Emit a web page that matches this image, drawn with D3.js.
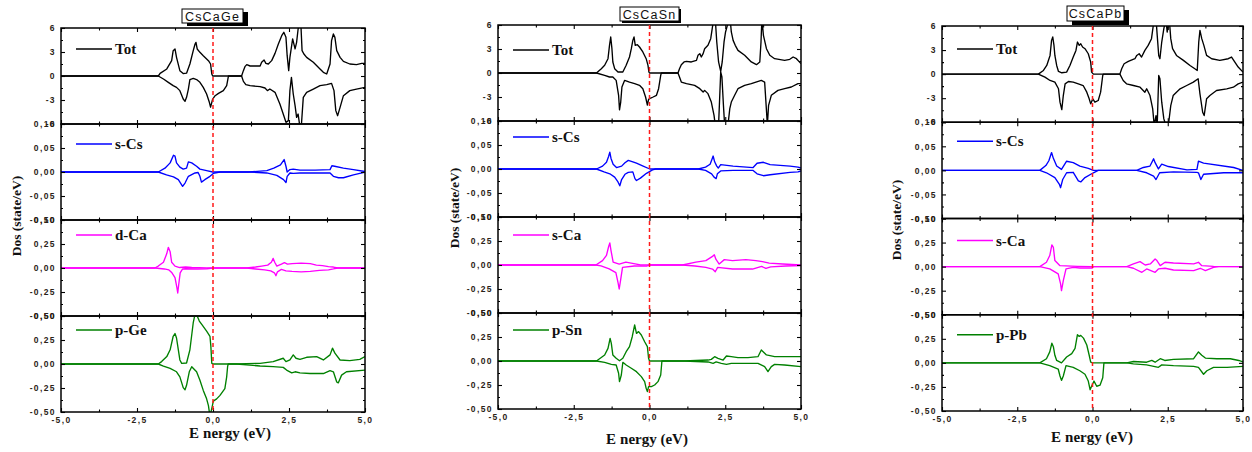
<!DOCTYPE html>
<html>
<head>
<meta charset="utf-8">
<script src="https://cdn.jsdelivr.net/npm/d3@7"></script>
<style>
  body { margin: 0; background: #fff; }
  svg { display: block; }
</style>
</head>
<body>
<svg id="chart" width="1252" height="452"></svg>
<script>
// ---------------- data ----------------
const compounds = ["CsCaGe", "CsCaSn", "CsCaPb"];
const channelLabels = [
  ["Tot", "s-Cs", "d-Ca", "p-Ge"],
  ["Tot", "s-Cs", "s-Ca", "p-Sn"],
  ["Tot", "s-Cs", "s-Ca", "p-Pb"]
];
const channelColors = ["#000000", "#0000ff", "#ff00ff", "#008000"];

const energyDomain = [-5, 5];
const energyTicks = [-5, -2.5, 0, 2.5, 5];
const energyMinorTicks = [-3.75, -1.25, 1.25, 3.75];
const energyTickLabels = ["-5,0", "-2,5", "0,0", "2,5", "5,0"];

const totDomain = [-6, 6];
const totTicks = [-6, -3, 0, 3, 6];
const totMinorTicks = [-4.5, -1.5, 1.5, 4.5];
const totTickLabels = ["-6", "-3", "0", "3", "6"];

const csDomain = [-0.1, 0.1];
const csTicks = [-0.1, -0.05, 0, 0.05, 0.1];
const csMinorTicks = [-0.075, -0.025, 0.025, 0.075];
const csTickLabels = ["-0,10", "-0,05", "0,00", "0,05", "0,10"];

const halfDomain = [-0.5, 0.5];
const halfTicks = [-0.5, -0.25, 0, 0.25, 0.5];
const halfMinorTicks = [-0.375, -0.125, 0.125, 0.375];
const halfTickLabels = ["-0,50", "-0,25", "0,00", "0,25", "0,50"];

// CsCaGe: [energy (eV), DOS] for spin up / spin down
const geTotUp = [[-5,0],[-1.80,0],[-1.74,0.33],[-1.52,0.88],[-1.36,1.92],[-1.31,3.17],[-1.25,3.38],[-1.20,2.33],[-1.09,0.67],[-0.98,0.3],[-0.87,0.35],[-0.76,1.5],[-0.65,3.17],[-0.59,4.0],[-0.56,4.2],[-0.52,3.38],[-0.43,2.96],[-0.32,2.54],[-0.15,1.92],[-0.08,1.5],[-0.04,0.25],[-0.01,0],[0.94,0],[1.0,0.67],[1.05,1.17],[1.11,1.42],[1.22,1.25],[1.55,1.25],[1.60,1.71],[1.68,2.0],[1.74,1.58],[1.82,1.5],[1.93,1.92],[2.04,2.83],[2.15,4.0],[2.26,5.04],[2.33,5.46],[2.40,4.83],[2.44,2.54],[2.49,0.67],[2.53,2.33],[2.62,4.63],[2.70,3.38],[2.75,4.21],[2.80,5.88],[2.84,6.5],[2.89,6.5],[2.93,3.17],[2.99,2.75],[3.08,2.33],[3.30,1.71],[3.52,0.88],[3.63,0.46],[3.74,0.25],[3.85,1.5],[3.90,4.42],[3.96,5.25],[4.01,4.83],[4.07,3.17],[4.18,2.33],[4.29,1.83],[4.50,1.5],[4.72,1.42],[4.89,1.58],[5.0,1.58]];
const geTotDn = [[-5,0],[-1.80,0],[-1.63,-0.38],[-1.47,-0.79],[-1.31,-1.21],[-1.20,-1.42],[-1.09,-1.83],[-0.98,-2.88],[-0.92,-3.17],[-0.87,-2.67],[-0.81,-1.63],[-0.76,-0.45],[-0.65,-0.3],[-0.54,-0.45],[-0.43,-0.79],[-0.32,-1.42],[-0.21,-2.25],[-0.12,-3.29],[-0.08,-3.9],[-0.01,-2.88],[0.07,-2.46],[0.18,-2.17],[0.34,-1.83],[0.45,-1.21],[0.50,-0.17],[0.51,0],[0.94,0],[1.0,-0.67],[1.08,-1.08],[1.22,-1.21],[1.55,-1.33],[1.71,-1.5],[1.79,-1.83],[1.87,-1.63],[2.04,-2.04],[2.20,-3.5],[2.31,-4.75],[2.40,-5.79],[2.48,-5.58],[2.53,-1.83],[2.58,-0.17],[2.64,-2.25],[2.70,-3.71],[2.75,-5.17],[2.80,-4.75],[2.86,-6.4],[2.91,-6.0],[2.97,-2.67],[3.08,-2.04],[3.30,-1.63],[3.52,-1.21],[3.74,-1.08],[3.90,-0.92],[3.98,-1.83],[4.04,-4.33],[4.10,-4.96],[4.18,-3.92],[4.29,-2.46],[4.50,-1.83],[4.72,-1.63],[5.0,-1.42]];
const geCsUp = [[-5,0],[-1.80,0],[-1.58,0.008],[-1.41,0.019],[-1.30,0.035],[-1.25,0.033],[-1.20,0.019],[-1.09,0.010],[-0.98,0.006],[-0.87,0.008],[-0.81,0.021],[-0.70,0.019],[-0.54,0.012],[-0.43,0.006],[-0.21,0.003],[-0.01,0],[1.16,0],[1.77,0.003],[2.0,0.008],[2.22,0.015],[2.34,0.026],[2.40,0.012],[2.44,0],[2.53,0.005],[2.64,0.006],[2.75,0.005],[2.86,0.004],[3.36,0.004],[3.85,0.005],[3.91,0.013],[4.0,0.012],[4.29,0.008],[4.62,0.005],[5.0,0.001]];
const geCsDn = [[-5,0],[-1.80,0],[-1.53,-0.006],[-1.30,-0.010],[-1.14,-0.016],[-1.0,-0.030],[-0.92,-0.023],[-0.81,-0.009],[-0.59,-0.002],[-0.49,-0.001],[-0.43,-0.009],[-0.38,-0.021],[-0.27,-0.016],[-0.10,-0.009],[0.01,-0.003],[0.14,-0.001],[0.23,0],[1.16,0],[1.77,-0.002],[2.1,-0.007],[2.32,-0.016],[2.40,-0.022],[2.44,-0.009],[2.53,-0.002],[2.64,-0.003],[2.86,-0.002],[3.85,-0.002],[3.96,-0.009],[4.13,-0.012],[4.29,-0.012],[4.62,-0.006],[4.90,-0.002],[5.0,0]];
const geCaUp = [[-5,0],[-1.91,0],[-1.80,0.02],[-1.63,0.06],[-1.52,0.15],[-1.47,0.215],[-1.41,0.17],[-1.36,0.06],[-1.25,0.02],[-1.1,0.005],[-0.9,0.01],[-0.7,0.005],[-0.2,0],[1.11,0],[1.4,0.01],[1.6,0.02],[1.8,0.03],[1.92,0.06],[1.98,0.10],[2.03,0.06],[2.1,0.02],[2.25,0.04],[2.35,0.055],[2.45,0.04],[2.6,0.045],[2.9,0.05],[3.2,0.045],[3.4,0.03],[3.6,0.025],[3.8,0.015],[3.96,0.01],[4.1,0],[5,0]];
const geCaDn = [[-5,0],[-1.91,0],[-1.6,-0.01],[-1.45,-0.02],[-1.35,-0.05],[-1.25,-0.10],[-1.19,-0.2],[-1.16,-0.26],[-1.13,-0.18],[-1.08,-0.05],[-1.0,-0.01],[-0.9,-0.008],[-0.5,-0.01],[-0.2,-0.008],[0,0],[1.11,0],[1.4,-0.01],[1.7,-0.02],[1.9,-0.03],[2.02,-0.05],[2.07,-0.08],[2.12,-0.04],[2.25,-0.015],[2.4,-0.03],[2.6,-0.035],[2.9,-0.04],[3.2,-0.035],[3.5,-0.025],[3.8,-0.02],[3.96,-0.01],[4.1,0],[5,0]];
const gePUp = [[-5,0],[-1.80,0],[-1.69,0.025],[-1.52,0.077],[-1.41,0.148],[-1.31,0.289],[-1.25,0.317],[-1.20,0.271],[-1.14,0.148],[-1.09,0.042],[-1.03,0.007],[-0.87,0.01],[-0.76,0.148],[-0.65,0.43],[-0.59,0.52],[-0.52,0.5],[-0.45,0.447],[-0.37,0.412],[-0.21,0.342],[-0.10,0.289],[-0.07,0.183],[-0.04,0.007],[0,0],[0.78,0],[1.55,0.007],[1.98,0.025],[2.31,0.06],[2.40,0.025],[2.53,0.042],[2.64,0.095],[2.73,0.06],[2.86,0.049],[3.08,0.07],[3.41,0.077],[3.63,0.042],[3.85,0.095],[3.93,0.165],[4.01,0.113],[4.18,0.042],[4.50,0.035],[4.83,0.049],[5.0,0.077]];
const gePDn = [[-5,0],[-1.80,0],[-1.63,-0.021],[-1.41,-0.046],[-1.20,-0.081],[-1.09,-0.134],[-0.98,-0.246],[-0.92,-0.268],[-0.87,-0.222],[-0.78,-0.081],[-0.70,-0.028],[-0.54,-0.081],[-0.43,-0.169],[-0.32,-0.275],[-0.21,-0.363],[-0.15,-0.433],[-0.12,-0.5],[-0.08,-0.52],[-0.03,-0.45],[0.01,-0.387],[0.12,-0.363],[0.23,-0.327],[0.39,-0.257],[0.45,-0.134],[0.48,-0.028],[0.50,0],[0.78,0],[1.55,-0.021],[1.98,-0.028],[2.31,-0.035],[2.42,-0.063],[2.59,-0.092],[2.70,-0.081],[2.86,-0.092],[3.19,-0.099],[3.63,-0.099],[3.85,-0.07],[3.96,-0.081],[4.07,-0.187],[4.12,-0.197],[4.23,-0.116],[4.39,-0.081],[5.0,-0.063]];

// CsCaSn
const snTotUp = [[-5,0],[-1.75,0],[-1.59,0.54],[-1.48,0.96],[-1.37,1.79],[-1.32,3.46],[-1.28,4.5],[-1.24,3.04],[-1.21,1.38],[-1.15,0.54],[-1.04,0.13],[-0.88,0.13],[-0.77,0.96],[-0.66,2.0],[-0.60,3.04],[-0.55,4.08],[-0.51,4.5],[-0.47,3.46],[-0.40,3.54],[-0.33,3.25],[-0.22,2.63],[-0.11,1.79],[-0.05,0.96],[-0.02,0.13],[0,0],[0.94,0],[0.99,0.54],[1.05,1.04],[1.14,1.38],[1.22,1.46],[1.38,1.38],[1.55,1.58],[1.60,2.21],[1.66,2.42],[1.71,2.0],[1.77,2.42],[1.82,3.04],[1.93,3.46],[2.02,4.29],[2.07,5.54],[2.12,6.8],[2.17,6.8],[2.22,3.88],[2.28,1.38],[2.35,0.2],[2.40,1.38],[2.46,3.88],[2.51,5.13],[2.57,5.96],[2.60,6.8],[2.66,6.8],[2.70,5.13],[2.76,4.08],[2.83,3.46],[2.92,2.83],[3.14,2.21],[3.36,1.38],[3.53,1.04],[3.64,1.38],[3.68,3.88],[3.71,6.8],[3.76,4.71],[3.86,3.04],[3.97,2.21],[4.13,1.79],[4.46,1.58],[4.63,1.71],[4.74,2.0],[4.85,1.79],[5.0,1.17]];
const snTotDn = [[-5,0],[-1.75,0],[-1.48,-0.29],[-1.32,-0.5],[-1.21,-0.5],[-1.10,-0.92],[-1.02,-2.79],[-0.99,-4.6],[-0.95,-3.63],[-0.91,-1.75],[-0.82,-0.92],[-0.66,-1.13],[-0.49,-1.33],[-0.33,-1.54],[-0.22,-1.96],[-0.13,-3.0],[-0.07,-4.0],[-0.03,-3.29],[0.04,-3.13],[0.12,-3.0],[0.23,-2.79],[0.30,-1.96],[0.37,-0.29],[0.39,0],[0.94,0],[0.99,-0.5],[1.05,-1.13],[1.22,-1.33],[1.49,-1.54],[1.66,-1.96],[1.77,-2.38],[1.82,-2.17],[1.93,-2.58],[2.04,-3.63],[2.13,-5.29],[2.17,-6.5],[2.28,-6.5],[2.35,0.13],[2.39,-0.5],[2.44,-4.04],[2.48,-6.5],[2.59,-6.5],[2.65,-4.46],[2.70,-3.63],[2.81,-2.79],[2.92,-1.96],[3.14,-1.54],[3.36,-1.33],[3.69,-0.92],[3.80,-1.13],[3.86,-4.67],[3.89,-6.5],[3.93,-4.04],[4.02,-2.79],[4.24,-2.17],[4.46,-1.96],[4.68,-1.75],[4.90,-1.33],[5.0,-1.33]];
const snCsUp = [[-5,0],[-1.75,0],[-1.55,0.006],[-1.42,0.014],[-1.35,0.026],[-1.31,0.035],[-1.27,0.022],[-1.20,0.010],[-1.09,0.003],[-0.92,0.006],[-0.81,0.013],[-0.70,0.018],[-0.55,0.015],[-0.43,0.012],[-0.21,0.006],[0.01,0],[1.61,0],[1.85,0.004],[2.0,0.010],[2.06,0.020],[2.10,0.027],[2.15,0.015],[2.22,0.006],[2.27,0.002],[2.35,0.009],[2.76,0.006],[3.42,0.003],[3.55,0.012],[3.76,0.014],[3.98,0.009],[4.64,0.006],[4.9,0.004],[5.0,0.002]];
const snCsDn = [[-5,0],[-1.75,0],[-1.50,-0.006],[-1.31,-0.010],[-1.15,-0.017],[-1.04,-0.027],[-0.98,-0.035],[-0.92,-0.022],[-0.81,-0.011],[-0.70,-0.007],[-0.55,-0.006],[-0.48,-0.020],[-0.43,-0.024],[-0.30,-0.019],[-0.10,-0.009],[0.10,-0.002],[0.2,0],[1.61,0],[1.85,-0.003],[2.05,-0.010],[2.13,-0.017],[2.20,-0.020],[2.24,-0.010],[2.35,-0.004],[2.76,-0.003],[3.42,-0.003],[3.55,-0.010],[3.76,-0.014],[3.98,-0.012],[4.64,-0.007],[4.9,-0.006],[5.0,-0.004]];
const snCaUp = [[-5,0],[-1.77,0],[-1.55,0.046],[-1.42,0.1],[-1.35,0.19],[-1.31,0.23],[-1.27,0.15],[-1.20,0.03],[-1.0,0.01],[-0.78,0.03],[-0.43,0.01],[-0.3,0],[1.09,0],[1.53,0.03],[1.86,0.046],[2.08,0.09],[2.14,0.106],[2.19,0.06],[2.3,0.01],[2.47,0.056],[2.74,0.046],[3.18,0.056],[3.51,0.046],[3.73,0.035],[3.95,0.02],[4.4,0.01],[5,0]];
const snCaDn = [[-5,0],[-1.77,0],[-1.6,-0.01],[-1.33,-0.04],[-1.11,-0.08],[-1.04,-0.18],[-1.0,-0.25],[-0.95,-0.15],[-0.89,-0.025],[-0.5,-0.01],[-0.1,-0.012],[0,0],[1.09,0],[1.5,-0.01],[1.86,-0.025],[2.08,-0.042],[2.17,-0.07],[2.25,-0.025],[2.74,-0.042],[3.40,-0.042],[3.7,-0.015],[3.84,-0.035],[4.0,-0.02],[4.5,-0.01],[5,-0.005]];
const snPUp = [[-5,0],[-1.75,0],[-1.48,0.063],[-1.37,0.132],[-1.30,0.236],[-1.26,0.184],[-1.21,0.063],[-1.10,0.028],[-0.99,0.003],[-0.88,0.028],[-0.77,0.097],[-0.66,0.149],[-0.57,0.253],[-0.49,0.375],[-0.43,0.288],[-0.36,0.306],[-0.27,0.271],[-0.16,0.201],[-0.07,0.149],[-0.03,0.028],[0,0],[1.14,0],[1.93,0.01],[2.04,0.017],[2.15,0.045],[2.26,0.028],[2.43,0.01],[2.54,0.052],[2.70,0.045],[2.92,0.035],[3.25,0.035],[3.58,0.045],[3.69,0.115],[3.75,0.097],[3.86,0.063],[4.13,0.045],[4.46,0.045],[4.68,0.045],[5.0,0.045]];
const snPDn = [[-5,0],[-1.75,0],[-1.48,-0.014],[-1.26,-0.035],[-1.10,-0.042],[-1.02,-0.128],[-0.99,-0.215],[-0.93,-0.146],[-0.88,-0.014],[-0.77,-0.042],[-0.60,-0.076],[-0.43,-0.111],[-0.27,-0.163],[-0.16,-0.215],[-0.11,-0.285],[-0.07,-0.319],[-0.03,-0.267],[0.06,-0.267],[0.17,-0.25],[0.28,-0.215],[0.37,-0.146],[0.41,0],[1.14,0],[1.93,-0.01],[2.10,-0.024],[2.2,-0.01],[2.37,-0.024],[2.54,-0.035],[2.70,-0.024],[3.58,-0.024],[3.80,-0.059],[3.91,-0.111],[4.02,-0.059],[4.13,-0.035],[4.46,-0.042],[5.0,-0.059]];

// CsCaPb
const pbTotUp = [[-5,0],[-1.80,0],[-1.63,0.46],[-1.52,1.08],[-1.41,2.33],[-1.36,4.21],[-1.32,4.63],[-1.28,3.58],[-1.25,2.33],[-1.19,1.08],[-1.13,0.33],[-1.02,0.17],[-0.86,0.25],[-0.75,1.08],[-0.64,2.13],[-0.55,2.96],[-0.50,4.0],[-0.44,3.58],[-0.39,3.79],[-0.33,3.38],[-0.25,3.17],[-0.14,2.54],[-0.06,1.5],[-0.03,0.25],[0.03,0],[0.91,0],[0.97,0.67],[1.05,1.29],[1.19,1.58],[1.41,1.92],[1.47,2.33],[1.55,2.54],[1.63,2.13],[1.74,2.96],[1.85,3.58],[1.96,4.42],[2.02,6.08],[2.05,6.9],[2.11,6.9],[2.15,4.83],[2.20,2.33],[2.24,1.92],[2.30,4.0],[2.37,5.67],[2.44,6.9],[2.48,5.25],[2.52,6.08],[2.55,6.9],[2.60,4.42],[2.66,3.17],[2.79,2.33],[3.02,1.71],[3.24,1.08],[3.40,0.67],[3.48,0.46],[3.53,4.0],[3.57,5.46],[3.63,4.42],[3.70,3.58],[3.79,2.33],[3.96,1.92],[4.23,1.71],[4.51,1.92],[4.62,2.13],[4.73,1.5],[4.84,0.88],[5.0,0.25]];
const pbTotDn = [[-5,0],[-1.80,0],[-1.58,-0.38],[-1.41,-0.79],[-1.25,-1.0],[-1.13,-1.83],[-1.08,-3.5],[-1.02,-4.42],[-0.97,-2.67],[-0.91,-1.21],[-0.80,-0.92],[-0.64,-1.0],[-0.47,-1.21],[-0.31,-1.42],[-0.19,-2.25],[-0.11,-3.08],[-0.06,-3.71],[0.01,-3.08],[0.08,-3.5],[0.19,-3.29],[0.27,-2.25],[0.34,-0.17],[0.36,0],[0.91,0],[1.02,-0.79],[1.13,-1.21],[1.36,-1.42],[1.58,-1.63],[1.74,-2.25],[1.80,-1.83],[1.91,-2.67],[2.00,-4.33],[2.05,-6.4],[2.11,-5.17],[2.15,-6.4],[2.20,-0.17],[2.24,-0.58],[2.30,-3.5],[2.37,-5.58],[2.44,-6.4],[2.52,-6.4],[2.60,-3.92],[2.68,-2.67],[2.79,-2.25],[2.91,-1.83],[3.13,-1.42],[3.35,-1.0],[3.51,-0.58],[3.57,-2.46],[3.66,-4.75],[3.71,-5.17],[3.79,-3.08],[3.90,-2.67],[4.12,-2.04],[4.46,-1.83],[4.68,-1.63],[4.84,-1.21],[5.0,-1.0]];
const pbCsUp = [[-5,0],[-1.75,0],[-1.55,0.01],[-1.45,0.02],[-1.36,0.037],[-1.30,0.025],[-1.19,0.009],[-1.03,0.002],[-0.86,0.019],[-0.64,0.016],[-0.42,0.009],[-0.14,0.004],[0.03,0],[1.47,0],[1.69,0.006],[1.91,0.009],[2.03,0.024],[2.08,0.016],[2.19,0.003],[2.30,0.013],[2.52,0.008],[3.14,0.001],[3.47,0.002],[3.52,0.019],[3.69,0.015],[4.69,0.006],[5.0,0]];
const pbCsDn = [[-5,0],[-1.75,0],[-1.53,-0.005],[-1.25,-0.015],[-1.10,-0.029],[-1.06,-0.036],[-0.99,-0.019],[-0.86,-0.005],[-0.64,-0.004],[-0.47,-0.022],[-0.39,-0.024],[-0.25,-0.015],[0.03,-0.005],[0.19,0],[1.47,0],[1.80,-0.005],[2.03,-0.012],[2.11,-0.019],[2.23,-0.005],[2.69,-0.003],[3.47,-0.004],[3.52,-0.005],[3.60,-0.019],[3.69,-0.008],[4.36,-0.005],[5.0,-0.005]];
const pbCaUp = [[-5,0],[-1.75,0],[-1.53,0.045],[-1.42,0.115],[-1.35,0.226],[-1.30,0.2],[-1.25,0.063],[-1.08,0.01],[-0.5,0.003],[0,0],[1.14,0],[1.36,0.028],[1.58,0.052],[1.75,0.017],[1.92,0.028],[2.08,0.08],[2.14,0.063],[2.25,0.01],[2.41,0.045],[2.69,0.038],[3.36,0.028],[3.52,0.045],[3.63,0.01],[4.02,0.003],[5,0]];
const pbCaDn = [[-5,0],[-1.75,0],[-1.42,-0.024],[-1.14,-0.076],[-1.06,-0.18],[-1.03,-0.25],[-0.97,-0.146],[-0.88,-0.024],[-0.64,-0.007],[-0.42,-0.014],[0,-0.014],[0.03,0],[1.14,0],[1.36,-0.017],[1.64,-0.059],[1.80,-0.024],[2.08,-0.059],[2.19,-0.024],[2.41,-0.017],[2.69,-0.035],[3.36,-0.042],[3.58,-0.017],[3.75,-0.042],[4.02,-0.007],[4.2,0],[5,0]];
const pbPUp = [[-5,0],[-1.75,0],[-1.53,0.043],[-1.42,0.114],[-1.35,0.204],[-1.30,0.168],[-1.25,0.079],[-1.19,0.025],[-1.03,0],[-0.86,0.061],[-0.69,0.096],[-0.58,0.15],[-0.50,0.293],[-0.44,0.275],[-0.39,0.286],[-0.30,0.257],[-0.19,0.186],[-0.11,0.079],[-0.06,0.007],[0,0],[1.14,0],[1.36,0.014],[1.80,0.007],[1.97,0.025],[2.08,0.007],[2.25,0.043],[2.4,0.025],[2.69,0.036],[3.36,0.043],[3.52,0.114],[3.63,0.079],[3.75,0.05],[4.13,0.043],[4.58,0.043],[4.86,0.025],[5.0,0.01]];
const pbPDn = [[-5,0],[-1.75,0],[-1.42,-0.029],[-1.14,-0.064],[-1.08,-0.136],[-1.03,-0.182],[-0.97,-0.136],[-0.88,-0.029],[-0.64,-0.046],[-0.42,-0.082],[-0.25,-0.118],[-0.14,-0.189],[-0.08,-0.279],[-0.03,-0.243],[0.05,-0.189],[0.14,-0.243],[0.25,-0.232],[0.34,-0.154],[0.38,0],[1.14,0],[1.36,-0.011],[1.80,-0.021],[2.19,-0.046],[2.3,-0.021],[2.69,-0.029],[3.36,-0.036],[3.52,-0.046],[3.69,-0.118],[3.80,-0.082],[4.02,-0.046],[4.47,-0.046],[5.0,-0.036]];

const spinSeries = [
  [[geTotUp, geTotDn], [geCsUp, geCsDn], [geCaUp, geCaDn], [gePUp, gePDn]],
  [[snTotUp, snTotDn], [snCsUp, snCsDn], [snCaUp, snCaDn], [snPUp, snPDn]],
  [[pbTotUp, pbTotDn], [pbCsUp, pbCsDn], [pbCaUp, pbCaDn], [pbPUp, pbPDn]]
];

// ---------------- layout ----------------
const rowAxes = [
  { domain: totDomain, ticks: totTicks, minor: totMinorTicks, labels: totTickLabels },
  { domain: csDomain, ticks: csTicks, minor: csMinorTicks, labels: csTickLabels },
  { domain: halfDomain, ticks: halfTicks, minor: halfMinorTicks, labels: halfTickLabels },
  { domain: halfDomain, ticks: halfTicks, minor: halfMinorTicks, labels: halfTickLabels }
];

const frames = [
  { left: 61, right: 365, top: 28, rowH: 96,
    title: { x: 182, y: 9, w: 61, h: 14, sx: 5, sy: 3 },
    yLab: [16, 216], xLab: [230, 438], legendDy: [21, 20, 15, 14] },
  { left: 498, right: 801, top: 25, rowH: 96,
    title: { x: 620, y: 7, w: 59, h: 14, sx: 2, sy: 2 },
    yLab: [454, 208], xLab: [647, 444], legendDy: [25, 16, 18, 17] },
  { left: 942, right: 1243, top: 26, rowH: 96.25,
    title: { x: 1067, y: 6, w: 57, h: 15, sx: 5, sy: 4 },
    yLab: [896, 220], xLab: [1092, 442], legendDy: [23, 19, 22, 20] }
];

const svg = d3.select("#chart");
const tickFont = "'Liberation Sans', Arial, sans-serif";
const serifFont = "'Liberation Serif', 'Times New Roman', serif";

function styleAxis(g) {
  g.select(".domain").remove();
  g.selectAll("line").attr("stroke", "#000").attr("stroke-width", 1.1);
  g.selectAll("text")
    .attr("fill", "#2a2216")
    .style("font-family", tickFont)
    .style("font-size", "8.5px")
    .style("font-weight", "bold")
    .style("letter-spacing", "1.4px");
}

frames.forEach((f, pi) => {
  const panel = svg.append("g");
  const x = d3.scaleLinear().domain(energyDomain).range([f.left, f.right]);
  const nRows = rowAxes.length;
  const bottomAll = f.top + nRows * f.rowH;

  rowAxes.forEach((ax, ri) => {
    const top = f.top + ri * f.rowH;
    const bottom = top + f.rowH;
    const y = d3.scaleLinear().domain(ax.domain).range([bottom, top]);
    const clipId = `clip-${pi}-${ri}`;
    panel.append("clipPath").attr("id", clipId)
      .append("rect").attr("x", f.left).attr("y", top)
      .attr("width", f.right - f.left).attr("height", f.rowH);

    const line = d3.line().x(d => x(d[0])).y(d => y(d[1]));
    const curves = panel.append("g").attr("clip-path", `url(#${clipId})`);
    spinSeries[pi][ri].forEach(s => {
      curves.append("path").datum(s)
        .attr("d", line)
        .attr("fill", "none")
        .attr("stroke", channelColors[ri])
        .attr("stroke-width", 1.35)
        .attr("stroke-linejoin", "round");
    });

    // frame
    panel.append("rect")
      .attr("x", f.left).attr("y", top)
      .attr("width", f.right - f.left).attr("height", f.rowH)
      .attr("fill", "none").attr("stroke", "#000").attr("stroke-width", 1.5);

    // left axis with labels
    panel.append("g").attr("transform", `translate(${f.left},0)`)
      .call(d3.axisLeft(y).tickValues(ax.ticks).tickSize(-4).tickPadding(5)
        .tickFormat((d, i) => ax.labels[i]))
      .call(styleAxis);
    panel.append("g").attr("transform", `translate(${f.left},0)`)
      .call(d3.axisLeft(y).tickValues(ax.minor).tickSize(-2).tickFormat(""))
      .call(styleAxis);
    // right axis
    panel.append("g").attr("transform", `translate(${f.right},0)`)
      .call(d3.axisRight(y).tickValues(ax.ticks).tickSize(-4).tickFormat(""))
      .call(styleAxis);
    panel.append("g").attr("transform", `translate(${f.right},0)`)
      .call(d3.axisRight(y).tickValues(ax.minor).tickSize(-2).tickFormat(""))
      .call(styleAxis);
    // top & bottom energy ticks inside each row
    panel.append("g").attr("transform", `translate(0,${top})`)
      .call(d3.axisTop(x).tickValues(energyTicks).tickSize(-4).tickFormat(""))
      .call(styleAxis);
    panel.append("g").attr("transform", `translate(0,${top})`)
      .call(d3.axisTop(x).tickValues(energyMinorTicks).tickSize(-2.5).tickFormat(""))
      .call(styleAxis);
    const isLast = ri === nRows - 1;
    panel.append("g").attr("transform", `translate(0,${bottom})`)
      .call(d3.axisBottom(x).tickValues(energyTicks).tickSize(-4).tickPadding(5)
        .tickFormat((d, i) => isLast ? energyTickLabels[i] : ""))
      .call(styleAxis);
    panel.append("g").attr("transform", `translate(0,${bottom})`)
      .call(d3.axisBottom(x).tickValues(energyMinorTicks).tickSize(-2.5).tickFormat(""))
      .call(styleAxis);

    // legend
    const ly = top + f.legendDy[ri];
    panel.append("line")
      .attr("x1", f.left + 15).attr("x2", f.left + 51)
      .attr("y1", ly).attr("y2", ly)
      .attr("stroke", channelColors[ri]).attr("stroke-width", 1.4);
    panel.append("text")
      .attr("x", f.left + 54).attr("y", ly)
      .attr("dominant-baseline", "central")
      .style("font-family", serifFont).style("font-weight", "bold")
      .style("font-size", "15px").attr("fill", "#111")
      .text(channelLabels[pi][ri]);
  });

  // Fermi level
  panel.append("line")
    .attr("x1", x(0)).attr("x2", x(0))
    .attr("y1", f.top).attr("y2", bottomAll)
    .attr("stroke", "#ff1a1a").attr("stroke-width", 1.5)
    .attr("stroke-dasharray", "4,3");

  // axis titles
  panel.append("text")
    .attr("transform", `translate(${f.yLab[0]},${f.yLab[1]}) rotate(-90)`)
    .attr("text-anchor", "middle").attr("dominant-baseline", "central")
    .style("font-family", serifFont).style("font-weight", "bold")
    .style("font-size", "13.5px").attr("fill", "#111")
    .text("Dos (state/eV)");
  const xt = panel.append("text")
    .attr("x", f.xLab[0]).attr("y", f.xLab[1])
    .attr("text-anchor", "middle")
    .style("font-family", serifFont).style("font-weight", "bold")
    .style("font-size", "15px").attr("fill", "#111");
  xt.append("tspan").text("E");
  xt.append("tspan").attr("dx", 4).text("nergy (eV)");

  // compound title box with shadow
  const t = f.title;
  panel.append("rect").attr("x", t.x + t.sx).attr("y", t.y + t.sy)
    .attr("width", t.w).attr("height", t.h).attr("fill", "#000");
  panel.append("rect").attr("x", t.x).attr("y", t.y)
    .attr("width", t.w).attr("height", t.h)
    .attr("fill", "#fff").attr("stroke", "#000").attr("stroke-width", 1);
  panel.append("text")
    .attr("x", t.x + t.w / 2).attr("y", t.y + t.h / 2 + 0.5)
    .attr("text-anchor", "middle").attr("dominant-baseline", "central")
    .style("font-family", tickFont).style("font-size", "12.5px")
    .style("letter-spacing", "1.2px").attr("fill", "#111")
    .text(compounds[pi]);
});
</script>
</body>
</html>
